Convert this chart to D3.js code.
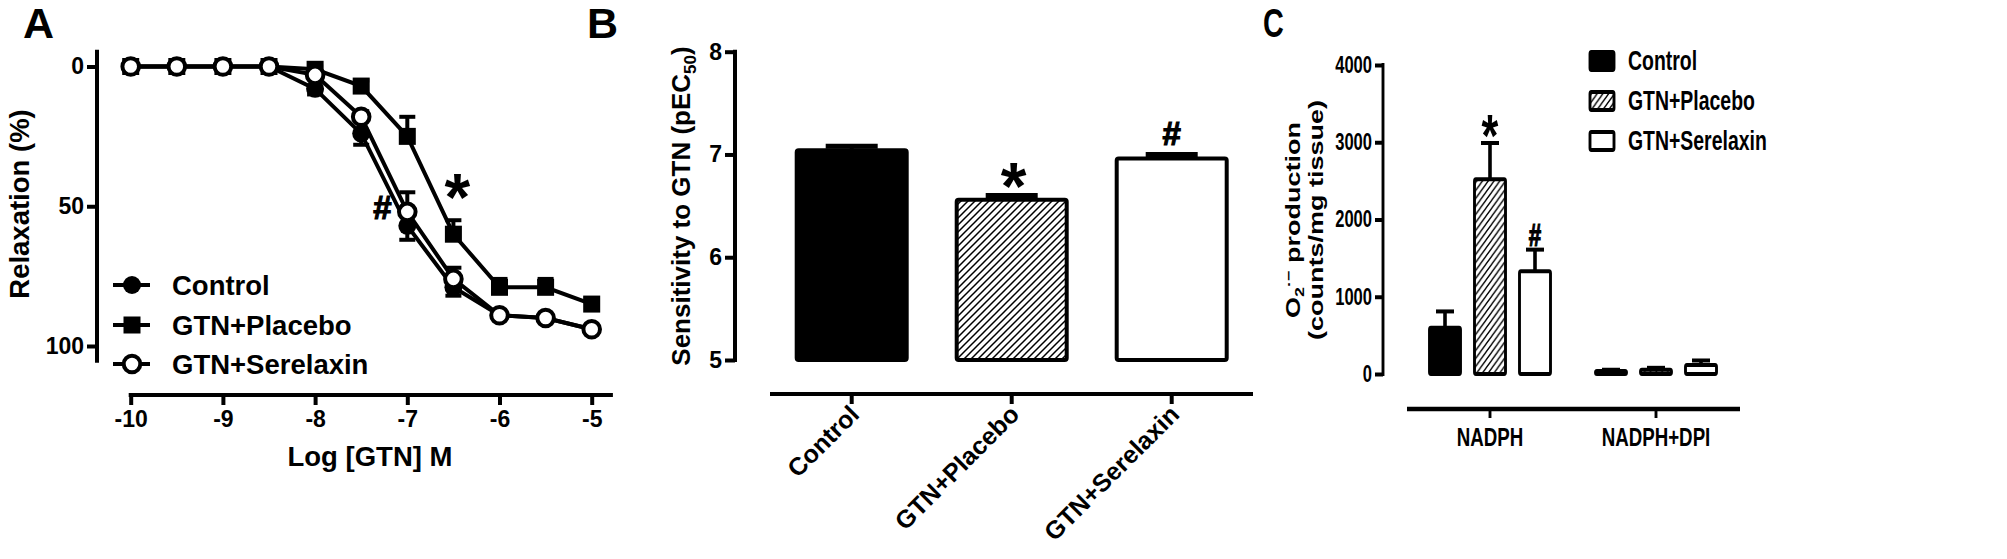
<!DOCTYPE html>
<html lang="en">
<head>
<meta charset="UTF-8">
<title>GTN relaxation, pEC50 and superoxide</title>
<script src="https://d3js.org/d3.v7.min.js"></script>
<style>
  body { margin: 0; background: #fff; }
  svg text { font-family: "Liberation Sans", Arial, sans-serif; font-weight: bold; fill: #000; }
  svg text.sig { stroke: #000; stroke-width: 1.2; }
</style>
</head>
<body>
<div id="chart"></div>
<script>
// ---- data: panel A (concentration-response) ----
const logConc = [-10, -9.5, -9, -8.5, -8, -7.5, -7, -6.5, -6, -5.5, -5];
const controlRelax = [0, 0, 0, 0, 8, 24, 57, 79, 89, 90, 94];
const controlErr = [0, 0, 0, 0, 2, 4, 5, 3, 1, 1, 1];
const placeboRelax = [0, 0, 0, 0, 1, 7, 25, 60, 79, 79, 85];
const placeboErr = [0, 0, 0, 0, 1, 2, 7, 5, 3, 3, 2];
const serelaxinRelax = [0, 0, 0, 0, 3, 18, 52, 76, 89, 90, 94];
const serelaxinErr = [0, 0, 0, 0, 1, 2, 7, 4, 1, 1, 1];
const xTicksA = [-10, -9, -8, -7, -6, -5];
const yTicksA = [0, 50, 100];

// ---- data: panel B (pEC50) ----
const groups = ["Control", "GTN+Placebo", "GTN+Serelaxin"];
const pec50 = [7.04, 6.56, 6.96];
const pec50Err = [0.04, 0.04, 0.04];
const yTicksB = [5, 6, 7, 8];

// ---- data: panel C (O2- production) ----
const substrates = ["NADPH", "NADPH+DPI"];
const o2Control = [600, 40];
const o2ControlErr = [210, 15];
const o2Placebo = [2520, 55];
const o2PlaceboErr = [470, 25];
const o2Serelaxin = [1330, 115];
const o2SerelaxinErr = [280, 60];
const yTicksC = [0, 1000, 2000, 3000, 4000];

const width = 2007, height = 559;
const svg = d3.select("#chart").append("svg")
  .attr("width", width).attr("height", height);

const defs = svg.append("defs");
defs.append("pattern").attr("id", "hatch")
  .attr("patternUnits", "userSpaceOnUse").attr("width", 7).attr("height", 7)
  .append("path").attr("d", "M-1,1 l2,-2 M0,7 l7,-7 M6,8 l2,-2")
  .attr("stroke", "#000").attr("stroke-width", 1.5);
defs.append("pattern").attr("id", "hatchC")
  .attr("patternUnits", "userSpaceOnUse").attr("width", 8).attr("height", 8)
  .append("path").attr("d", "M-1,1 l2,-2 M0,8 l8,-8 M7,9 l2,-2")
  .attr("stroke", "#000").attr("stroke-width", 1.6);

function styleAxis(g, w) {
  g.selectAll(".tick line").attr("stroke", "#000").attr("stroke-width", w);
  g.selectAll(".tick text").attr("font-size", 23).attr("fill", "#000");
}

// ================= Panel A =================
const xA = d3.scaleLinear().domain([-10, -5]).range([130.7, 591.7]);
const yA = d3.scaleLinear().domain([0, 100]).range([66.5, 346]);

svg.append("text").attr("x", 23).attr("y", 38).attr("font-size", 43).text("A");

const yAxA = svg.append("g").attr("transform", "translate(97,0)")
  .call(d3.axisLeft(yA).tickValues(yTicksA).tickSize(10).tickPadding(3).tickSizeOuter(0));
yAxA.select(".domain").remove();
styleAxis(yAxA, 4);
yAxA.append("line").attr("x1", 0).attr("x2", 0)
  .attr("y1", yA(-6)).attr("y2", yA(106)).attr("stroke", "#000").attr("stroke-width", 4);

const xAxA = svg.append("g").attr("transform", "translate(0,395)")
  .call(d3.axisBottom(xA).tickValues(xTicksA).tickFormat(d3.format("d"))
    .tickSize(10).tickPadding(6).tickSizeOuter(0));
xAxA.select(".domain").remove();
styleAxis(xAxA, 4);
xAxA.selectAll(".tick text").text(d => String(d).replace("−", "-"));
xAxA.append("line").attr("x1", xA(-10) - 2).attr("x2", xA(-4.77))
  .attr("stroke", "#000").attr("stroke-width", 4);

svg.append("text").attr("transform", "translate(29,204) rotate(-90)")
  .attr("text-anchor", "middle").attr("font-size", 27.5).text("Relaxation (%)");
svg.append("text").attr("x", 370).attr("y", 466)
  .attr("text-anchor", "middle").attr("font-size", 27.5).text("Log [GTN] M");

const seriesA = [
  { name: "GTN+Placebo", vals: placeboRelax, err: placeboErr, dir: -1, shape: "square" },
  { name: "Control", vals: controlRelax, err: controlErr, dir: 1, shape: "filled" },
  { name: "GTN+Serelaxin", vals: serelaxinRelax, err: serelaxinErr, dir: -1, shape: "open" }
];
const lineA = d3.line().x(d => xA(d[0])).y(d => yA(d[1]));

function marker(g, shape, cx, cy) {
  if (shape === "square") {
    g.append("rect").attr("x", cx - 8.5).attr("y", cy - 8.5).attr("width", 17).attr("height", 17).attr("fill", "#000");
  } else if (shape === "filled") {
    g.append("circle").attr("cx", cx).attr("cy", cy).attr("r", 9).attr("fill", "#000");
  } else {
    g.append("circle").attr("cx", cx).attr("cy", cy).attr("r", 8.3)
      .attr("fill", "#fff").attr("stroke", "#000").attr("stroke-width", 4);
  }
}

seriesA.forEach(s => {
  const g = svg.append("g");
  const pts = logConc.map((c, i) => [c, s.vals[i], s.err[i]]);
  pts.forEach(p => {
    if (p[2] > 0) {
      const y2 = yA(p[1] + s.dir * p[2]);
      g.append("line").attr("x1", xA(p[0])).attr("x2", xA(p[0]))
        .attr("y1", yA(p[1])).attr("y2", y2).attr("stroke", "#000").attr("stroke-width", 4);
      g.append("line").attr("x1", xA(p[0]) - 8).attr("x2", xA(p[0]) + 8)
        .attr("y1", y2).attr("y2", y2).attr("stroke", "#000").attr("stroke-width", 4);
    }
  });
  g.append("path").attr("d", lineA(pts)).attr("fill", "none")
    .attr("stroke", "#000").attr("stroke-width", 4);
  pts.forEach(p => marker(g, s.shape, xA(p[0]), yA(p[1])));
});

svg.append("text").attr("x", xA(-6.5) + 4).attr("y", 220)
  .attr("text-anchor", "middle").attr("font-size", 66).text("*");
svg.append("text").attr("class", "sig").attr("x", xA(-7.27)).attr("y", 219)
  .attr("text-anchor", "middle").attr("font-size", 33).text("#");

// legend A
const legA = [
  { name: "Control", shape: "filled", y: 285 },
  { name: "GTN+Placebo", shape: "square", y: 325 },
  { name: "GTN+Serelaxin", shape: "open", y: 364 }
];
legA.forEach(l => {
  const g = svg.append("g");
  g.append("line").attr("x1", 113).attr("x2", 150).attr("y1", l.y).attr("y2", l.y)
    .attr("stroke", "#000").attr("stroke-width", 4);
  marker(g, l.shape, 132, l.y);
  g.append("text").attr("x", 172).attr("y", l.y).attr("dy", "0.35em")
    .attr("font-size", 27.5).text(l.name);
});

// ================= Panel B =================
const xB = d3.scaleBand().domain(groups).range([771.7, 1251.7])
  .paddingInner(0.3125).paddingOuter(0.15625);
const yB = d3.scaleLinear().domain([5, 8]).range([360, 51.7]);

svg.append("text").attr("x", 587).attr("y", 38).attr("font-size", 43).text("B");

const yAxB = svg.append("g").attr("transform", "translate(735,0)")
  .call(d3.axisLeft(yB).tickValues(yTicksB).tickFormat(d3.format("d")).tickSize(10).tickPadding(3).tickSizeOuter(0));
yAxB.select(".domain").attr("stroke", "#000").attr("stroke-width", 4)
  .attr("d", `M0,${yB(8) - 2}V${yB(5) + 2}`);
styleAxis(yAxB, 4);

svg.append("text").attr("transform", "translate(690,206) rotate(-90)")
  .attr("text-anchor", "middle").attr("font-size", 26)
  .call(t => {
    t.append("tspan").text("Sensitivity to GTN (pEC");
    t.append("tspan").attr("font-size", 17).attr("dy", 6).text("50");
    t.append("tspan").attr("dy", -6).text(")");
  });

const fillB = ["#000", "url(#hatch)", "#fff"];
groups.forEach((gname, i) => {
  const x0 = xB(gname), bw = xB.bandwidth(), cx = x0 + bw / 2;
  const yTop = yB(pec50[i] + pec50Err[i]);
  svg.append("line").attr("x1", cx).attr("x2", cx).attr("y1", yB(pec50[i])).attr("y2", yTop)
    .attr("stroke", "#000").attr("stroke-width", 4);
  svg.append("line").attr("x1", cx - 26).attr("x2", cx + 26).attr("y1", yTop).attr("y2", yTop)
    .attr("stroke", "#000").attr("stroke-width", 5);
  svg.append("rect").attr("x", x0).attr("y", yB(pec50[i]))
    .attr("width", bw).attr("height", yB(5) - yB(pec50[i]))
    .attr("rx", 2).attr("fill", fillB[i]).attr("stroke", "#000")
    .attr("stroke-width", 4).attr("stroke-linejoin", "round");
});
svg.append("text").attr("x", xB("GTN+Placebo") + xB.bandwidth() / 2 + 2).attr("y", 209)
  .attr("text-anchor", "middle").attr("font-size", 66).text("*");
svg.append("text").attr("class", "sig").attr("x", xB("GTN+Serelaxin") + xB.bandwidth() / 2).attr("y", 145)
  .attr("text-anchor", "middle").attr("font-size", 33).text("#");

const xAxB = svg.append("g").attr("transform", "translate(0,394)");
xAxB.append("line").attr("x1", 770).attr("x2", 1253).attr("stroke", "#000").attr("stroke-width", 4);
groups.forEach(gname => {
  const cx = xB(gname) + xB.bandwidth() / 2;
  xAxB.append("line").attr("x1", cx).attr("x2", cx).attr("y1", 0).attr("y2", 10)
    .attr("stroke", "#000").attr("stroke-width", 4);
  xAxB.append("text").attr("transform", `translate(${cx + 9},${22}) rotate(-45)`)
    .attr("text-anchor", "end").attr("font-size", 25).text(gname);
});

// ================= Panel C (horizontally condensed) =================
const S = 0.72;
const gC = svg.append("g").attr("transform", `scale(${S},1)`);
const xC = d3.scalePoint().domain(substrates).range([1490 / S, 1656 / S]);
const xSub = d3.scaleBand().domain(groups).range([-67.5 / S, 67.5 / S])
  .paddingInner(0.311).paddingOuter(0.1556);
const yC = d3.scaleLinear().domain([0, 4000]).range([374, 65]);

gC.append("text").attr("x", 1263 / S).attr("y", 37).attr("font-size", 40)
  .attr("font-weight", "normal").text("C");

const yAxC = gC.append("g").attr("transform", `translate(${1383 / S},0)`)
  .call(d3.axisLeft(yC).tickValues(yTicksC).tickFormat(d3.format("d"))
    .tickSize(8 / S).tickPadding(3 / S).tickSizeOuter(0));
yAxC.select(".domain").attr("stroke", "#000").attr("stroke-width", 4)
  .attr("d", `M0,${yC(4000) - 2}V${yC(0) + 2}`);
styleAxis(yAxC, 4);

gC.append("text").attr("transform", `translate(${1300 / S},220) rotate(-90)`)
  .attr("text-anchor", "middle").attr("font-size", 27)
  .call(t => {
    t.append("tspan").text("O");
    t.append("tspan").attr("font-size", 18).attr("dy", 6).text("2");
    t.append("tspan").attr("font-size", 18).attr("dy", -16).text("·−");
    t.append("tspan").attr("dy", 10).text(" production");
  });
gC.append("text").attr("transform", `translate(${1323 / S},220) rotate(-90)`)
  .attr("text-anchor", "middle").attr("font-size", 27).text("(counts/mg tissue)");

const seriesC = [
  { vals: o2Control, err: o2ControlErr, fill: "#000" },
  { vals: o2Placebo, err: o2PlaceboErr, fill: "url(#hatchC)" },
  { vals: o2Serelaxin, err: o2SerelaxinErr, fill: "#fff" }
];
seriesC.forEach((s, si) => {
  substrates.forEach((sub, j) => {
    const x0 = xC(sub) + xSub(groups[si]), bw = xSub.bandwidth(), cx = x0 + bw / 2;
    const yTop = yC(s.vals[j] + s.err[j]);
    gC.append("line").attr("x1", cx).attr("x2", cx).attr("y1", yC(s.vals[j])).attr("y2", yTop)
      .attr("stroke", "#000").attr("stroke-width", 5);
    gC.append("line").attr("x1", cx - 9 / S).attr("x2", cx + 9 / S).attr("y1", yTop).attr("y2", yTop)
      .attr("stroke", "#000").attr("stroke-width", 4);
    gC.append("rect").attr("x", x0).attr("y", yC(s.vals[j]))
      .attr("width", bw).attr("height", yC(0) - yC(s.vals[j]))
      .attr("rx", 2).attr("fill", s.fill).attr("stroke", "#000")
      .attr("stroke-width", 4).attr("stroke-linejoin", "round");
  });
});
gC.append("text").attr("x", xC("NADPH") + xSub("GTN+Placebo") + xSub.bandwidth() / 2).attr("y", 156)
  .attr("text-anchor", "middle").attr("font-size", 60).text("*");
gC.append("text").attr("class", "sig").attr("x", xC("NADPH") + xSub("GTN+Serelaxin") + xSub.bandwidth() / 2).attr("y", 246)
  .attr("text-anchor", "middle").attr("font-size", 31).text("#");

const xAxC = gC.append("g").attr("transform", "translate(0,409)");
xAxC.append("line").attr("x1", 1407 / S).attr("x2", 1740 / S).attr("stroke", "#000").attr("stroke-width", 4.5);
substrates.forEach(sub => {
  xAxC.append("line").attr("x1", xC(sub)).attr("x2", xC(sub)).attr("y1", 0).attr("y2", 9)
    .attr("stroke", "#000").attr("stroke-width", 4);
  xAxC.append("text").attr("x", xC(sub)).attr("y", 37.5)
    .attr("text-anchor", "middle").attr("font-size", 26).text(sub);
});

// legend C
const legFill = ["#000", "url(#hatchC)", "#fff"];
groups.forEach((gname, i) => {
  const y = 52 + i * 40;
  gC.append("rect").attr("x", 1590 / S).attr("y", y).attr("width", 24 / S).attr("height", 18)
    .attr("rx", 2).attr("fill", legFill[i]).attr("stroke", "#000").attr("stroke-width", 4);
  gC.append("text").attr("x", 1628 / S).attr("y", y + 18).attr("font-size", 27).text(gname);
});
</script>
</body>
</html>
